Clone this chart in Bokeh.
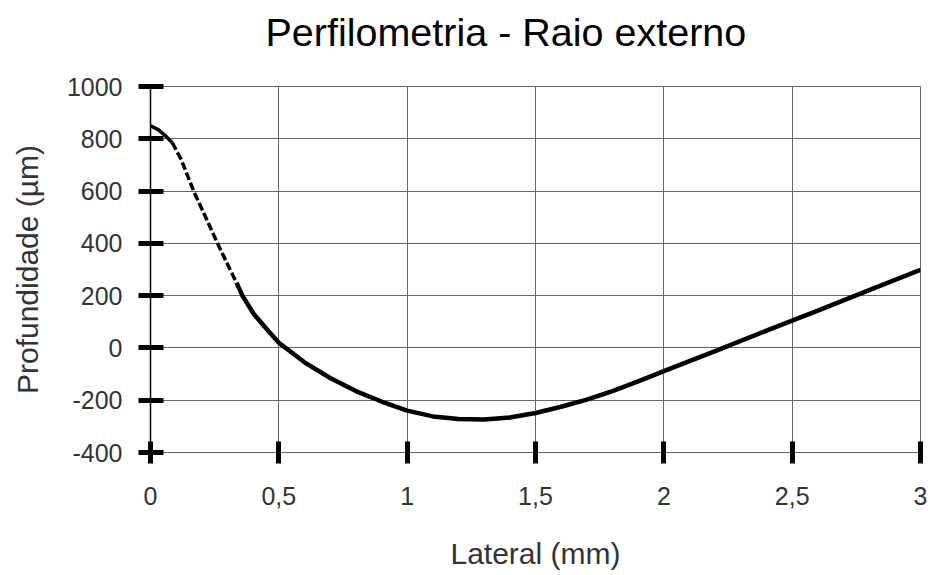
from bokeh.plotting import figure
from bokeh.embed import file_html
from bokeh.resources import INLINE
from bokeh.models import FixedTicker, Range1d, Title

title_text = "Perfilometria - Raio externo"
x_label = "Lateral (mm)"
y_label = "Profundidade (µm)"

x_ticks = [0, 0.5, 1, 1.5, 2, 2.5, 3]
x_tick_labels = ["0", "0,5", "1", "1,5", "2", "2,5", "3"]
y_ticks = [-400, -200, 0, 200, 400, 600, 800, 1000]
y_tick_labels = ["-400", "-200", "0", "200", "400", "600", "800", "1000"]

lateral = [0.0, 0.03, 0.06, 0.085, 0.12, 0.168, 0.215, 0.261, 0.31, 0.335, 0.358, 0.403,
           0.45, 0.5, 0.6, 0.7, 0.8, 0.9, 1.0, 1.1, 1.2, 1.3, 1.4, 1.5, 1.6, 1.7,
           1.8, 1.9, 2.0, 2.2, 2.4, 2.6, 2.8, 3.0]
profundidade = [850, 835, 810, 785, 720, 600, 500, 400, 300, 250, 200, 129,
                75, 20, -55, -115, -165, -205, -240, -262, -272, -274, -266, -249, -225, -198,
                -165, -128, -89, -12, 66, 143, 221, 299]

# index ranges of the solid and dotted parts of the trace
dash_start, dash_end = 3, 9

p = figure(width=928, height=572, output_backend="svg", toolbar_location=None,
           x_range=Range1d(0, 3), y_range=Range1d(-400, 1000),
           min_border_left=150, min_border_right=8, min_border_top=86, min_border_bottom=115)
p.title = None
p.background_fill_color = "white"
p.border_fill_color = "white"
p.outline_line_color = "#666666"

# spacer between frame and title, then the title itself (outermost)
p.add_layout(Title(text=" ", text_font_size="1px", standoff=30), "above")
p.add_layout(Title(text=title_text, align="left", offset=115, standoff=0,
                   text_font="Liberation Sans", text_font_size="39.5px",
                   text_font_style="normal", text_color="black"), "above")

for ax in (p.xaxis[0], p.yaxis[0]):
    ax.major_tick_line_width = 5
    ax.major_tick_line_color = "black"
    ax.minor_tick_line_color = None
    ax.major_label_text_font = "Liberation Sans"
    ax.major_label_text_font_size = "25px"
    ax.major_label_text_color = "#333333"
    ax.axis_label_text_font = "Liberation Sans"
    ax.axis_label_text_font_size = "30px"
    ax.axis_label_text_font_style = "normal"
    ax.axis_label_text_color = "#333333"

p.xaxis.ticker = FixedTicker(ticks=x_ticks)
p.xaxis.major_label_overrides = {t: l for t, l in zip(x_ticks, x_tick_labels)}
p.xaxis.major_tick_in = 11
p.xaxis.major_tick_out = 11
p.xaxis.major_label_standoff = 23
p.xaxis.axis_label = x_label
p.xaxis.axis_label_standoff = 29
p.xaxis.axis_line_color = "#666666"

p.yaxis.ticker = FixedTicker(ticks=y_ticks)
p.yaxis.major_label_overrides = {t: l for t, l in zip(y_ticks, y_tick_labels)}
p.yaxis.major_tick_in = 13
p.yaxis.major_tick_out = 12
p.yaxis.major_label_standoff = 16
p.yaxis.axis_label = y_label
p.yaxis.axis_label_standoff = 20
p.yaxis.axis_line_color = "black"
p.yaxis.axis_line_width = 1.5

p.xgrid.ticker = FixedTicker(ticks=x_ticks)
p.ygrid.ticker = FixedTicker(ticks=y_ticks)
p.grid.grid_line_color = "#666666"
p.grid.grid_line_width = 1
p.grid.grid_line_alpha = 1

p.line(lateral[:dash_start + 1], profundidade[:dash_start + 1], line_color="black", line_width=3.5)
p.line(lateral[dash_start:dash_end + 1], profundidade[dash_start:dash_end + 1],
       line_color="black", line_width=3.5, line_dash="8 3")
p.line(lateral[dash_end:], profundidade[dash_end:], line_color="black", line_width=4.5)

open("out.html", "w").write(file_html(p, INLINE))
